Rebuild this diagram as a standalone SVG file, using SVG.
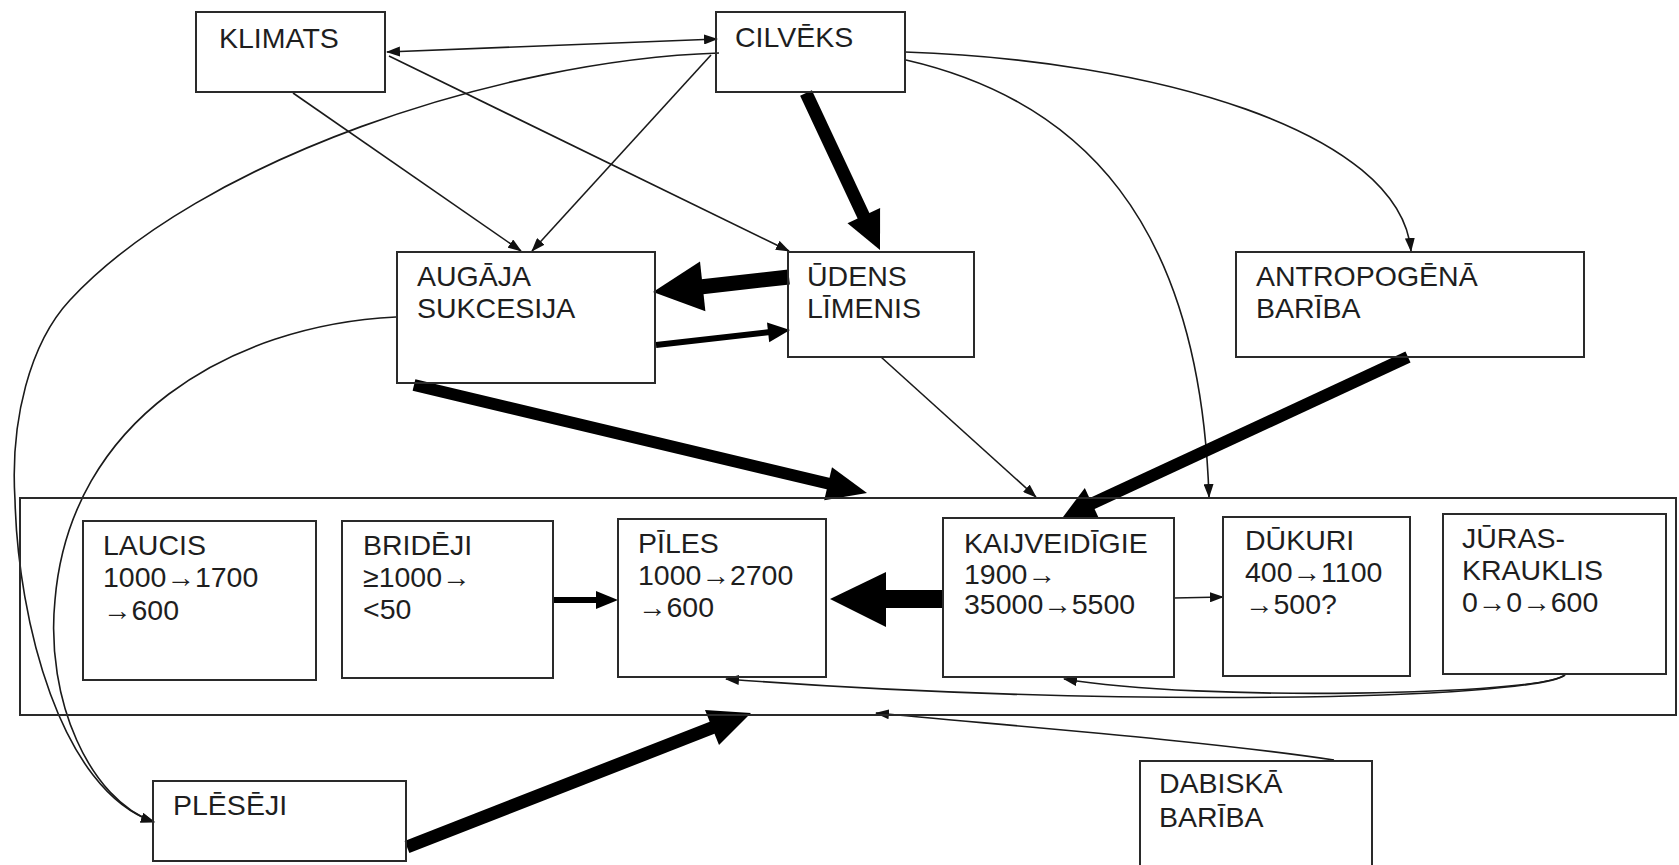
<svg xmlns="http://www.w3.org/2000/svg" width="1679" height="865" viewBox="0 0 1679 865">
<defs>
<marker id="ah" markerUnits="userSpaceOnUse" markerWidth="14" markerHeight="10" refX="13" refY="5" orient="auto-start-reverse"><path d="M0,0 L14,5 L0,10 z" fill="#111"/></marker>
</defs>
<style>
.box{fill:none;stroke:#2a2a2a;stroke-width:2}
.t{font-family:"Liberation Sans",Arial,sans-serif;font-size:28.5px;fill:#1e1e1e}
.thin{fill:none;stroke:#1a1a1a;stroke-width:1.6;marker-end:url(#ah)}
.both{marker-start:url(#ah)}
.thick{fill:none;stroke:#000;stroke-linecap:butt}
.head{fill:#000}
</style>
<rect width="1679" height="865" fill="#fff"/>

<g id="connectors">
  <!-- thin straight -->
  <line class="thin both" x1="387" y1="52" x2="717" y2="39"/>
  <line class="thin" x1="389" y1="56" x2="789" y2="251"/>
  <line class="thin" x1="293" y1="93" x2="521" y2="251"/>
  <line class="thin" x1="711" y1="55" x2="532" y2="251"/>
  <line class="thin" x1="881" y1="357" x2="1036" y2="497"/>
  <line class="thin" x1="1174" y1="598" x2="1223" y2="597"/>
  <!-- thin curves -->
  <path class="thin" d="M719,53 C500,60 200,160 70,300 C30,343 10,420 15,500 C18,620 60,790 154,822"/>
  <path class="thin" d="M396,317 C230,325 70,420 55,600 C45,700 90,800 154,822"/>
  <path class="thin" d="M905,52 C1150,60 1400,130 1411,251"/>
  <path class="thin" d="M906,60 C1080,100 1200,220 1209,497"/>
  <path class="thin" d="M1565,675 C1540,695 1200,702 1064,679"/>
  <path class="thin" d="M1565,675 C1530,700 1100,708 726,679"/>
  <path class="thin" d="M1334,760 C1200,740 1000,725 876,713"/>
  <!-- thick arrows -->
  <line class="thick" stroke-width="13" x1="806" y1="93" x2="865" y2="219"/>
  <polygon class="head" points="880,250 880.1,207.9 847.5,223.3"/>
  <line class="thick" stroke-width="15" x1="789" y1="277" x2="700" y2="287"/>
  <polygon class="head" points="653,292 705.4,311.3 700,261.6"/>
  <line class="thick" stroke-width="6" x1="656" y1="345" x2="770" y2="332"/>
  <polygon class="head" points="790,330 769.2,342.3 767,322.5"/>
  <line class="thick" stroke-width="12" x1="414" y1="385" x2="830" y2="484"/>
  <polygon class="head" points="867,493 832,467.2 824.2,500.2"/>
  <line class="thick" stroke-width="12" x1="1408" y1="357" x2="1089" y2="505"/>
  <polygon class="head" points="1063,517 1099.2,518.9 1084.8,488.1"/>
  <line class="thick" stroke-width="18" x1="943" y1="599" x2="884" y2="599"/>
  <polygon class="head" points="830,599 886,572 886,627"/>
  <line class="thick" stroke-width="6" x1="553" y1="600" x2="598" y2="600"/>
  <polygon class="head" points="618,600 596,591 596,609"/>
  <line class="thick" stroke-width="13" x1="407" y1="847" x2="714" y2="727"/>
  <polygon class="head" points="751,713 705,710 719,745"/>
</g>

<g id="container"><rect class="box" x="20" y="498" width="1656" height="217"/></g>

<g id="klimats"><rect class="box" x="196" y="12" width="189" height="80"/><text class="t" x="219" y="48">KLIMATS</text></g>
<g id="cilveks"><rect class="box" x="716" y="12" width="189" height="80"/><text class="t" x="735" y="47">CILVĒKS</text></g>
<g id="augaja"><rect class="box" x="397" y="252" width="258" height="131"/><text class="t" x="417" y="286">AUGĀJA</text><text class="t" x="417" y="318">SUKCESIJA</text></g>
<g id="udens"><rect class="box" x="788" y="252" width="186" height="105"/><text class="t" x="807" y="286">ŪDENS</text><text class="t" x="807" y="318">LĪMENIS</text></g>
<g id="antropogena"><rect class="box" x="1236" y="252" width="348" height="105"/><text class="t" x="1256" y="286">ANTROPOGĒNĀ</text><text class="t" x="1256" y="318">BARĪBA</text></g>

<g id="laucis"><rect class="box" x="83" y="521" width="233" height="159"/><text class="t" x="103" y="555">LAUCIS</text><text class="t" x="103" y="587">1000→1700</text><text class="t" x="103" y="620">→600</text></g>
<g id="brideji"><rect class="box" x="342" y="521" width="211" height="157"/><text class="t" x="363" y="555">BRIDĒJI</text><text class="t" x="363" y="587">≥1000→</text><text class="t" x="363" y="619">&lt;50</text></g>
<g id="piles"><rect class="box" x="618" y="519" width="208" height="158"/><text class="t" x="638" y="553">PĪLES</text><text class="t" x="638" y="585">1000→2700</text><text class="t" x="638" y="617">→600</text></g>
<g id="kaijveidigie"><rect class="box" x="943" y="518" width="231" height="159"/><text class="t" x="964" y="553">KAIJVEIDĪGIE</text><text class="t" x="964" y="584">1900→</text><text class="t" x="964" y="614">35000→5500</text></g>
<g id="dukuri"><rect class="box" x="1223" y="517" width="187" height="159"/><text class="t" x="1245" y="550">DŪKURI</text><text class="t" x="1245" y="582">400→1100</text><text class="t" x="1245" y="614">→500?</text></g>
<g id="juraskrauklis"><rect class="box" x="1443" y="514" width="223" height="160"/><text class="t" x="1462" y="548">JŪRAS-</text><text class="t" x="1462" y="580">KRAUKLIS</text><text class="t" x="1462" y="612">0→0→600</text></g>

<g id="pleseji"><rect class="box" x="153" y="781" width="253" height="80"/><text class="t" x="173" y="815">PLĒSĒJI</text></g>
<g id="dabiska"><rect class="box" x="1140" y="761" width="232" height="130"/><text class="t" x="1159" y="793">DABISKĀ</text><text class="t" x="1159" y="827">BARĪBA</text></g>
</svg>
